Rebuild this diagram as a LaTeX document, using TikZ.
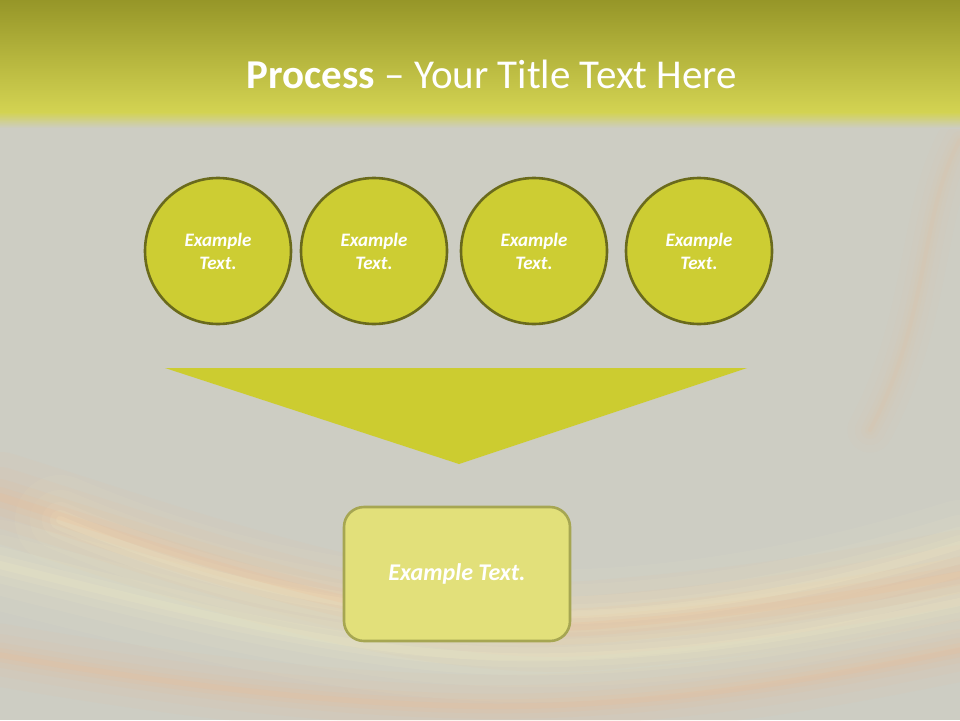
\documentclass[tikz,border=0pt]{standalone}
\usepackage{fontspec}
\setmainfont{Carlito}
\definecolor{bg}{HTML}{CDCDC3}
\definecolor{bandtop}{HTML}{969628}
\definecolor{bandbot}{HTML}{D3D352}
\definecolor{circfill}{HTML}{CDCD33}
\definecolor{circline}{HTML}{6A6A1C}
\definecolor{trifill}{HTML}{CCCC30}
\definecolor{boxfill}{HTML}{E2E07A}
\definecolor{boxline}{HTML}{A6A652}
\definecolor{glowor}{HTML}{F2B88C}
\definecolor{glowye}{HTML}{FAF4C8}
\tikzset{
  x=1pt,y=-1pt,
  stepcircle/.style={circle,draw=circline,line width=2.6pt,fill=circfill,minimum size=146pt,inner sep=0pt,
    text=white,font=\fontsize{19}{23}\selectfont\bfseries\itshape,align=center},
  resultbox/.style={draw=boxline,line width=2.6pt,fill=boxfill,rounded corners=20pt,minimum width=226pt,minimum height=134pt,
    text=white,font=\fontsize{24}{28}\selectfont\bfseries\itshape},
  glow/.style={line cap=round},
}
\begin{document}
\begin{tikzpicture}
\useasboundingbox (0,0) rectangle (960,720);
\fill[bg] (0,0) rectangle (960,720);
% background swirls
\foreach \w/\o in {90/0.06,60/0.07,36/0.09,20/0.11,8/0.15}{
  \draw[glowye,line width=\w pt,opacity=\o,glow] (60,520) .. controls (250,600) and (420,625) .. (620,612) .. controls (760,602) and (880,570) .. (960,545);
  \draw[glowor,line width=\w pt,opacity=\o,glow] (0,497) .. controls (200,560) and (420,640) .. (600,625) .. controls (760,612) and (880,590) .. (960,575);
  \draw[glowye,line width=\w pt,opacity=\o,glow] (0,565) .. controls (200,615) and (380,662) .. (560,657) .. controls (740,652) and (860,622) .. (960,602);
  \draw[glowor,line width=0.7*\w pt,opacity=\o,glow] (0,655) .. controls (200,690) and (400,712) .. (560,705) .. controls (720,698) and (860,670) .. (960,650);
  \draw[glowor,line width=0.5*\w pt,opacity=0.5*\o,glow] (960,140) .. controls (920,210) and (930,320) .. (870,430);
}
% title band
\shade[top color=bandtop,bottom color=bandbot] (0,0) rectangle (960,112);
\shade[top color=bandbot,bottom color=bg] (0,112) rectangle (960,128);
\node[text=white,font=\fontsize{41}{46}\selectfont,anchor=base] (title) at (492,88) {\textbf{Process} – Your Title Text Here};
% circles
\node[stepcircle] (c1) at (218,251) {Example\\Text.};
\node[stepcircle] (c2) at (374,251) {Example\\Text.};
\node[stepcircle] (c3) at (534,251) {Example\\Text.};
\node[stepcircle] (c4) at (699,251) {Example\\Text.};
% funnel triangle
\coordinate (tl) at (165,368);
\coordinate (tr) at (747,368);
\coordinate (tip) at (459,464);
\fill[trifill] (tl) -- (tr) -- (tip) -- cycle;
% result box
\node[resultbox] (res) at (457,574) {Example Text.};
\end{tikzpicture}
\end{document}
